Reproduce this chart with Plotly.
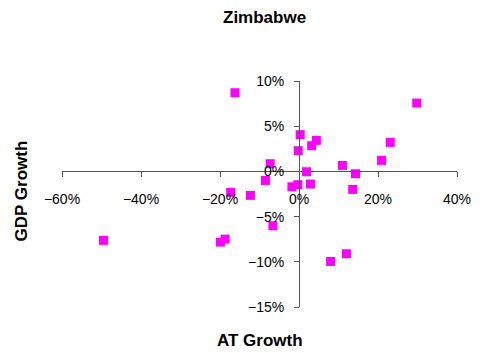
import plotly.graph_objects as go

at_growth = [-16.2, 29.8, 0.3, 4.4, 3.2, -0.2, 23.1, 20.9, 11.0, 14.3, 1.9, -7.3, -8.5,
             -0.3, -1.8, 2.9, 13.6, -17.3, -12.3, -6.6, -49.5, -18.7, -19.9, 8.0, 12.0]
gdp_growth = [8.7, 7.56, 4.06, 3.43, 2.84, 2.29, 3.21, 1.22, 0.66, -0.26, -0.04, 0.85, -1.0,
              -1.47, -1.70, -1.40, -1.99, -2.32, -2.65, -6.01, -7.63, -7.49, -7.82, -9.96, -9.11]
x_ticks = [-60, -40, -20, 0, 20, 40]
y_ticks = [-15, -10, -5, 0, 5, 10]

x_vals = [v / 100 for v in at_growth]
y_vals = [v / 100 for v in gdp_growth]

W, H = 483, 353
left, right, top, bottom = 61.7, 460, 80.7, 306.7

fig = go.Figure(go.Scatter(
    x=x_vals, y=y_vals, mode="markers",
    marker=dict(symbol="square", size=9, color="#FF00FF", line=dict(width=0)),
    showlegend=False, cliponaxis=False,
))

font = "Liberation Sans, Arial, sans-serif"
axis_common = dict(
    showgrid=False, zeroline=False, showline=True, linecolor="#555555", linewidth=1,
    ticks="outside", ticklen=5, tickcolor="#555555", tickwidth=1,
    tickformat=".0%", tickfont=dict(family=font, size=14, color="#000000"),
    anchor="free", position=0.6,
)
fig.update_layout(
    width=W, height=H,
    margin=dict(l=left, r=W - right, t=top, b=H - bottom, pad=0),
    paper_bgcolor="white", plot_bgcolor="white",
    xaxis=dict(range=[-0.6, 0.4], tickvals=[v / 100 for v in x_ticks],
               ticklabelstandoff=10, **axis_common),
    yaxis=dict(range=[-0.15, 0.10], tickvals=[v / 100 for v in y_ticks],
               ticklabelstandoff=7, **axis_common),
    annotations=[
        dict(text="<b>Zimbabwe</b>", x=266, y=H - 17, xref="paper", yref="paper",
             showarrow=False, font=dict(family=font, size=17, color="#000000")),
        dict(text="<b>AT Growth</b>", x=261, y=H - 340, xref="paper", yref="paper",
             showarrow=False, font=dict(family=font, size=17, color="#000000")),
        dict(text="<b>GDP Growth</b>", x=21, y=H - 190.5, xref="paper", yref="paper",
             showarrow=False, textangle=-90, font=dict(family=font, size=17, color="#000000")),
    ],
)
# convert pixel annotation positions to paper fractions
pw, ph = right - left, bottom - top
for a in fig.layout.annotations:
    a.x = (a.x - left) / pw
    a.y = (a.y - (H - bottom)) / ph
    a.xanchor = "center"
    a.yanchor = "middle"

fig.write_html("out.html", config={"displayModeBar": False},
               post_script="document.body.style.margin='0';")
